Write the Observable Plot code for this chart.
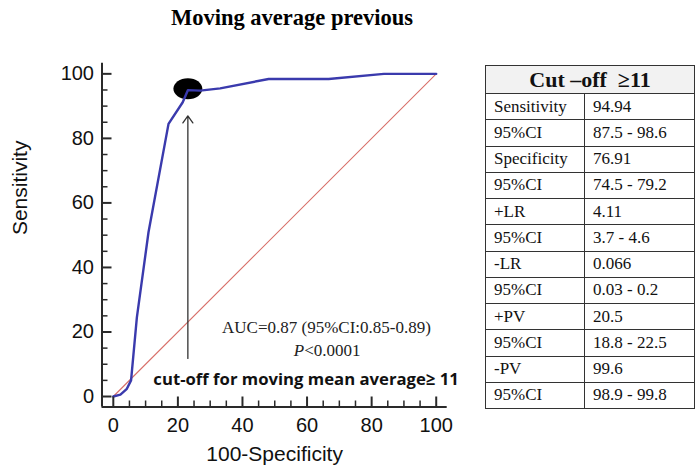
<!DOCTYPE html>
<html>
<head>
<meta charset="utf-8">
<script src="https://cdn.jsdelivr.net/npm/d3@7"></script>
<script src="https://cdn.jsdelivr.net/npm/@observablehq/plot@0.6"></script>
<style>
  html, body { margin: 0; padding: 0; background: #fff; }
  #wrap { position: relative; width: 695px; height: 474px; overflow: hidden; }
  #title { position: absolute; left: 0; top: 0; width: 584px; height: 40px; text-align: center;
    font-family: "Liberation Serif", serif; font-weight: bold; font-size: 22.5px; line-height: 36px; color: #000; }
  #plot { position: absolute; left: 0; top: 40px; }
  #tbl { position: absolute; left: 485px; top: 65px; border-collapse: collapse;
    font-family: "Liberation Serif", serif; color: #111; }
  #tbl td, #tbl th { border: 1px solid #333; padding: 0 0 0 8px; height: 25.25px; font-size: 17px; text-align: left; white-space: pre; }
  #tbl th { background: #f2f2f2; font-size: 22px; font-weight: bold; text-align: center; height: 27px; padding: 0; }
</style>
</head>
<body>
<div id="wrap">
  <div id="title"></div>
  <div id="plot"></div>
  <table id="tbl"></table>
</div>
<script>
// ---- data ----
const titleText = "Moving average previous";
const xLabel = "100-Specificity";
const yLabel = "Sensitivity";
// ROC curve points: 100-Specificity, Sensitivity
const rocX = [0, 2.2, 4.2, 5.5, 7.3, 10.9, 17.1, 21.5, 23.09, 26.9, 33.1, 48.1, 66.7, 83.8, 100];
const rocY = [0, 0.6, 2.4, 5.0, 24.5, 50.9, 84.5, 91.2, 94.94, 94.8, 95.5, 98.4, 98.4, 100, 100];
const diagX = [0, 100];
const diagY = [0, 100];
const cutoffSpec = 76.91;
const cutoffSens = 94.94;
const xMajor = [0, 20, 40, 60, 80, 100];
const xMinor = [5, 10, 15, 25, 30, 35, 45, 50, 55, 65, 70, 75, 85, 90, 95];
const yMajor = [0, 20, 40, 60, 80, 100];
const yMinor = [5, 10, 15, 25, 30, 35, 45, 50, 55, 65, 70, 75, 85, 90, 95];
const xDomain = [-3.5, 103.4];
const yDomain = [-3.25, 103.3];
const aucText = "AUC=0.87 (95%CI:0.85-0.89)";
const pLetter = "P";
const pRest = "<0.0001";
const cutText = "cut-off for moving mean average\u2265 11";
const arrowSens = [11.8, 87];
const tableHeader = "Cut \u2013off  \u226511";
const tableLabels = ["Sensitivity", "95%CI", "Specificity", "95%CI", "+LR", "95%CI", "-LR", "95%CI", "+PV", "95%CI", "-PV", "95%CI"];
const tableValues = ["94.94", "87.5 - 98.6", "76.91", "74.5 - 79.2", "4.11", "3.7 - 4.6", "0.066", "0.03 - 0.2", "20.5", "18.8 - 22.5", "99.6", "98.9 - 99.8"];

// ---- build ----
document.getElementById("title").textContent = titleText;

const roc = rocX.map((x, i) => ({x, y: rocY[i]}));
const diag = diagX.map((x, i) => ({x, y: diagY[i]}));
const cutoff = [{x: 100 - cutoffSpec, y: cutoffSens}];

const ellipse = {
  draw(ctx, size) {
    const r = Math.sqrt(size / Math.PI);
    const rx = r * 1.38, ry = r;
    const k = 0.5523;
    ctx.moveTo(rx, 0);
    ctx.bezierCurveTo(rx, ry * k, rx * k, ry, 0, ry);
    ctx.bezierCurveTo(-rx * k, ry, -rx, ry * k, -rx, 0);
    ctx.bezierCurveTo(-rx, -ry * k, -rx * k, -ry, 0, -ry);
    ctx.bezierCurveTo(rx * k, -ry, rx, -ry * k, rx, 0);
    ctx.closePath();
  }
};

const W = 480, H = 434, mL = 101.5, mR = 33.3, mT = 22.7, mB = 67.5;
const frameW = W - mL - mR, frameH = H - mT - mB;
const axisColor = "#2a2a2a";
const tickFont = "Liberation Sans, Arial, sans-serif";
const serif = "Liberation Serif, Times New Roman, serif";

const chart = Plot.plot({
  width: W,
  height: H,
  marginLeft: mL,
  marginRight: mR,
  marginTop: mT,
  marginBottom: mB,
  x: {domain: xDomain, axis: null},
  y: {domain: yDomain, axis: null},
  marks: [
    Plot.line(diag, {x: "x", y: "y", stroke: "#d8706a", strokeWidth: 1.1}),
    Plot.dot(cutoff, {x: "x", y: "y", r: 10.5, symbol: ellipse, fill: "#000", stroke: "none", dy: -1.5}),
    Plot.line(roc, {x: "x", y: "y", stroke: "#3a3aad", strokeWidth: 2.4}),
    Plot.arrow(cutoff, {x1: "x", x2: "x", y1: () => arrowSens[0], y2: () => arrowSens[1], stroke: "#333", strokeWidth: 1.3, headLength: 10, headAngle: 70}),
    Plot.text([aucText], {x: 66, y: 21.4, fontFamily: serif, fontSize: 17, fill: "#222"}),
    Plot.text([pLetter], {x: 59.1, y: 14.2, textAnchor: "end", fontFamily: serif, fontStyle: "italic", fontSize: 17, fill: "#222"}),
    Plot.text([pRest], {x: 59.1, y: 14.2, textAnchor: "start", fontFamily: serif, fontSize: 17, fill: "#222"}),
    Plot.text([cutText], {x: 12.4, y: 5.3, textAnchor: "start", fontFamily: "Open Sans, sans-serif", fontWeight: "bold", fontSize: 16.7, fill: "#111"}),
    // axis lines
    Plot.ruleY([yDomain[0]], {stroke: axisColor, strokeWidth: 2}),
    Plot.ruleX([xDomain[0]], {stroke: axisColor, strokeWidth: 2}),
    // inward ticks
    Plot.ruleX(xMajor, {x: d => d, insetTop: frameH - 10, stroke: axisColor, strokeWidth: 2}),
    Plot.ruleX(xMinor, {x: d => d, insetTop: frameH - 6, stroke: axisColor, strokeWidth: 1.5}),
    Plot.ruleY(yMajor, {y: d => d, insetRight: frameW - 10, stroke: axisColor, strokeWidth: 2}),
    Plot.ruleY(yMinor, {y: d => d, insetRight: frameW - 6, stroke: axisColor, strokeWidth: 1.5}),
    // tick labels
    Plot.axisX(xMajor, {anchor: "bottom", tickSize: 0, tickPadding: 11, fontSize: 20, fontFamily: tickFont, fill: "#111", label: null}),
    Plot.axisY(yMajor, {anchor: "left", tickSize: 0, tickPadding: 8, fontSize: 20, fontFamily: tickFont, fill: "#111", label: null}),
    // axis titles
    Plot.text([xLabel], {frameAnchor: "bottom", dy: 53.5, fontSize: 21, fontFamily: tickFont, fill: "#111"}),
    Plot.text([yLabel], {frameAnchor: "left", dx: -81.5, rotate: -90, fontSize: 21, fontFamily: tickFont, fill: "#111"})
  ]
});
document.getElementById("plot").appendChild(chart);

// table
const tbl = document.getElementById("tbl");
const hr = document.createElement("tr");
const th = document.createElement("th");
th.colSpan = 2;
th.textContent = tableHeader;
hr.appendChild(th);
tbl.appendChild(hr);
tableLabels.forEach((lab, i) => {
  const tr = document.createElement("tr");
  const a = document.createElement("td");
  a.textContent = lab;
  a.style.width = "90px";
  const b = document.createElement("td");
  b.textContent = tableValues[i];
  b.style.width = "101px";
  tr.appendChild(a); tr.appendChild(b);
  tbl.appendChild(tr);
});
</script>
</body>
</html>
